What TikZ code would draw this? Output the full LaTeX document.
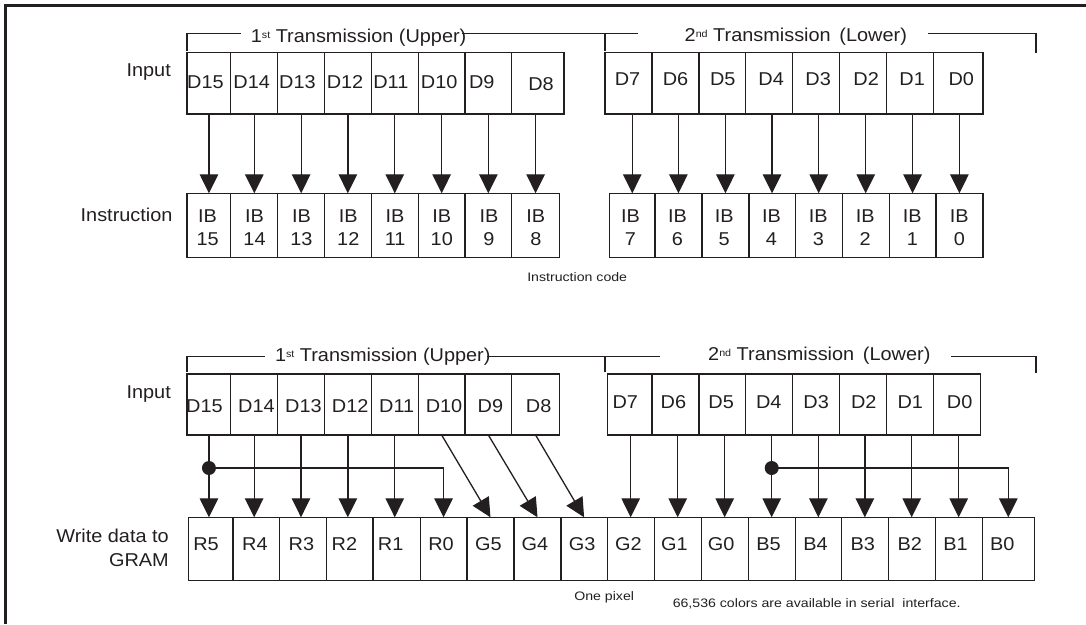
\documentclass[tikz,border=0pt]{standalone}
\usepackage{fontspec}
\setmainfont{Liberation Sans}
\newfontfamily\mainf[FakeStretch=1.07]{Liberation Sans}
\newfontfamily\smallf[FakeStretch=1.15]{Liberation Sans}
\usetikzlibrary{arrows.meta,fit}
\definecolor{ink}{RGB}{35,31,32}
\newcommand\ordsup[1]{\raisebox{4.5pt}{\fontsize{10}{10}\selectfont #1}}
\tikzset{
  cellbox/.style={draw=ink, line width=1.3pt, inner sep=0pt, outer sep=0pt},
  labtxt/.style={font=\mainf\fontsize{18.6}{22}\selectfont, text=ink, inner sep=0pt, text height=13.3pt, text depth=0pt},
  smalltxt/.style={font=\smallf\fontsize{12.3}{14}\selectfont, text=ink, inner sep=0pt, text height=8.8pt, text depth=0pt},
  arr/.style={draw=ink, line width=1.3pt, -{Triangle[length=19pt,width=18.5pt]}},
  brk/.style={draw=ink, line width=1.2pt},
  junction/.style={circle, fill=ink, inner sep=0pt, minimum size=14pt},
}
% name, x1, x2, y1, y2, text, text x, text y
\newcommand\mkcell[8]{%
  \coordinate (#1-nw) at (#2,#4);
  \coordinate (#1-se) at (#3,#5);
  \node[cellbox, fit=(#1-nw)(#1-se)] (#1) {};
  \node[labtxt] (#1-t) at (#7,#8) {#6};
}
% name, x1, x2, number, text x
\newcommand\mkib[5]{%
  \coordinate (#1-nw) at (#2,193.3);
  \coordinate (#1-se) at (#3,257.3);
  \node[cellbox, fit=(#1-nw)(#1-se)] (#1) {};
  \node[labtxt] (#1-ta) at (#5,215.5) {IB};
  \node[labtxt] (#1-tb) at (#5,239.2) {#4};
}
\begin{document}
\begin{tikzpicture}[x=1pt,y=-1pt]
\useasboundingbox (0,0) rectangle (1086,624);
% frame
\draw[draw=ink, line width=2.7pt] (5.6,624) -- (5.6,5.6) -- (1086,5.6);

% ---------- upper diagram ----------
\node[labtxt, anchor=west] (t1a) at (250.7,36) {1\ordsup{st} Transmission (Upper)};
\node[labtxt, anchor=west] (t2a) at (684.5,35) {2\ordsup{nd} Transmission\hspace{8.7pt}(Lower)};
\draw[brk] (187,51) -- (187,33.5) -- (241,33.5);
\draw[brk] (462,33.5) -- (637.5,33.5);
\draw[brk] (605,33.5) -- (605,51);
\draw[brk] (928,33.5) -- (1036,33.5) -- (1036,52.7);

\node[labtxt, anchor=east] (inA) at (171,69.7) {Input};
\node[labtxt, anchor=east] (insB) at (172.7,215) {Instruction};

\mkcell{a15}{187.1}{230.8}{52.7}{114}{D15}{205.5}{81.7}
\mkcell{a14}{230.8}{277.8}{52.7}{114}{D14}{251.7}{81.7}
\mkcell{a13}{277.8}{324.5}{52.7}{114}{D13}{297.5}{81.7}
\mkcell{a12}{324.5}{371.2}{52.7}{114}{D12}{345}{81.7}
\mkcell{a11}{371.2}{418.3}{52.7}{114}{D11}{390.8}{81.7}
\mkcell{a10}{418.3}{465.0}{52.7}{114}{D10}{439.2}{81.7}
\mkcell{a9}{465.0}{511.7}{52.7}{114}{D9}{481.8}{81.7}
\mkcell{a8}{511.7}{564.1}{52.7}{114}{D8}{541}{83.7}
\mkcell{a7}{605.1}{652.1}{52.7}{114}{D7}{627.5}{78.8}
\mkcell{a6}{652.1}{699.1}{52.7}{114}{D6}{675.5}{78.8}
\mkcell{a5}{699.1}{745.8}{52.7}{114}{D5}{722.8}{78.8}
\mkcell{a4}{745.8}{792.8}{52.7}{114}{D4}{771.2}{78.8}
\mkcell{a3}{792.8}{839.5}{52.7}{114}{D3}{818.2}{78.8}
\mkcell{a2}{839.5}{886.5}{52.7}{114}{D2}{866.1}{78.8}
\mkcell{a1}{886.5}{933.5}{52.7}{114}{D1}{912.2}{78.8}
\mkcell{a0}{933.5}{982.9}{52.7}{114}{D0}{961.3}{78.8}

\mkib{ib15}{187.1}{230.8}{15}{207.6}
\mkib{ib14}{230.8}{277.8}{14}{254.5}
\mkib{ib13}{277.8}{324.5}{13}{301.4}
\mkib{ib12}{324.5}{371.2}{12}{348.3}
\mkib{ib11}{371.2}{418.3}{11}{395.1}
\mkib{ib10}{418.3}{465.0}{10}{441.8}
\mkib{ib9}{465.0}{511.7}{9}{488.9}
\mkib{ib8}{511.7}{559.5}{8}{535.8}
\mkib{ib7}{609.6}{654.9}{7}{630.5}
\mkib{ib6}{654.9}{701.9}{6}{677.5}
\mkib{ib5}{701.9}{748.9}{5}{724.2}
\mkib{ib4}{748.9}{795.2}{4}{771.5}
\mkib{ib3}{795.2}{842.2}{3}{818.3}
\mkib{ib2}{842.2}{889.2}{2}{865.2}
\mkib{ib1}{889.2}{935.9}{1}{912.3}
\mkib{ib0}{935.9}{982.9}{0}{959.3}

\foreach \k in {15,14,13,12,11,10,9,8,7,6,5,4,3,2,1,0}{
  \draw[arr] (ib\k.north |- a\k.south) -- (ib\k.north);
}
\node[smalltxt] (icode) at (577.2,276.7) {Instruction code};

% ---------- lower diagram ----------
\node[labtxt, anchor=west] (t1c) at (274.8,355) {1\ordsup{st} Transmission (Upper)};
\node[labtxt, anchor=west] (t2c) at (708,354) {2\ordsup{nd} Transmission\hspace{8.7pt}(Lower)};
\draw[brk] (187,372) -- (187,356.7) -- (265,356.7);
\draw[brk] (487,356.7) -- (660,356.7);
\draw[brk] (605,356.7) -- (605,372);
\draw[brk] (951,356.7) -- (1036,356.7) -- (1036,373.3);

\node[labtxt, anchor=east] (inC) at (171,391.7) {Input};
\node[labtxt, anchor=east] (wd1) at (169,535.7) {Write data to};
\node[labtxt, anchor=east] (wd2) at (169,560) {GRAM};

\mkcell{c15}{187.1}{230.8}{374}{435}{D15}{204.4}{405.8}
\mkcell{c14}{230.8}{277.5}{374}{435}{D14}{256.4}{405.8}
\mkcell{c13}{277.5}{324.5}{374}{435}{D13}{303.5}{405.8}
\mkcell{c12}{324.5}{371.2}{374}{435}{D12}{350.2}{405.8}
\mkcell{c11}{371.2}{418.3}{374}{435}{D11}{396.7}{405.8}
\mkcell{c10}{418.3}{465.0}{374}{435}{D10}{444}{405.8}
\mkcell{c9}{465.0}{511.7}{374}{435}{D9}{490.4}{405.8}
\mkcell{c8}{511.7}{559.5}{374}{435}{D8}{538.7}{405.8}
\mkcell{c7}{607.2}{652.1}{374}{435}{D7}{625.3}{401.7}
\mkcell{c6}{652.1}{699.1}{374}{435}{D6}{673.4}{401.7}
\mkcell{c5}{699.1}{745.8}{374}{435}{D5}{721.1}{401.7}
\mkcell{c4}{745.8}{792.8}{374}{435}{D4}{768.8}{401.7}
\mkcell{c3}{792.8}{839.5}{374}{435}{D3}{816.2}{401.7}
\mkcell{c2}{839.5}{886.5}{374}{435}{D2}{863.8}{401.7}
\mkcell{c1}{886.5}{933.5}{374}{435}{D1}{910.3}{401.7}
\mkcell{c0}{933.5}{980.5}{374}{435}{D0}{959.6}{401.7}

\mkcell{wR5}{188.7}{233.0}{517.3}{580.7}{R5}{206}{544.2}
\mkcell{wR4}{233.0}{279.7}{517.3}{580.7}{R4}{254.9}{544.2}
\mkcell{wR3}{279.7}{326.4}{517.3}{580.7}{R3}{301.4}{544.2}
\mkcell{wR2}{326.4}{373.1}{517.3}{580.7}{R2}{344.4}{544.2}
\mkcell{wR1}{373.1}{420.2}{517.3}{580.7}{R1}{390.7}{544.2}
\mkcell{wR0}{420.2}{466.9}{517.3}{580.7}{R0}{441}{544.2}
\mkcell{wG5}{466.9}{514.0}{517.3}{580.7}{G5}{488.5}{544.2}
\mkcell{wG4}{514.0}{561.0}{517.3}{580.7}{G4}{534.8}{544.2}
\mkcell{wG3}{561.0}{607.2}{517.3}{580.7}{G3}{582.2}{544.2}
\mkcell{wG2}{607.2}{654.2}{517.3}{580.7}{G2}{628.5}{544.2}
\mkcell{wG1}{654.2}{701.2}{517.3}{580.7}{G1}{674.4}{544.2}
\mkcell{wG0}{701.2}{748.2}{517.3}{580.7}{G0}{721.1}{544.2}
\mkcell{wB5}{748.2}{795.2}{517.3}{580.7}{B5}{768.5}{544.2}
\mkcell{wB4}{795.2}{841.5}{517.3}{580.7}{B4}{815.6}{544.2}
\mkcell{wB3}{841.5}{888.2}{517.3}{580.7}{B3}{862.7}{544.2}
\mkcell{wB2}{888.2}{935.2}{517.3}{580.7}{B2}{909.7}{544.2}
\mkcell{wB1}{935.2}{982.2}{517.3}{580.7}{B1}{955.6}{544.2}
\mkcell{wB0}{982.2}{1034.4}{517.3}{580.7}{B0}{1002.3}{544.2}

% straight arrows, left half
\foreach \s/\t in {c15/wR5,c14/wR4,c13/wR3,c12/wR2,c11/wR1}{
  \draw[arr] (\s.south) -- (\s.south |- \t.north);
}
% diagonal arrows
\foreach \s/\t in {c10/wG5,c9/wG4,c8/wG3}{
  \draw[arr] (\s.south) -- (\t.north);
}
% straight arrows, right half
\foreach \s/\t in {c7/wG2,c6/wG1,c5/wG0,c4/wB5,c3/wB4,c2/wB3,c1/wB2,c0/wB1}{
  \draw[arr] (\t.north |- \s.south) -- (\t.north);
}
% branches
\coordinate (jl) at (c15.south |- 0,468);
\coordinate (jr) at (wB5.north |- 0,468);
\draw[arr] (jl) -| (wR0.north);
\draw[arr] (jr) -| (wB0.north);
\node[junction] (dl) at (jl) {};
\node[junction] (dr) at (jr) {};

\node[smalltxt] (opix) at (604.2,595.8) {One pixel};
\node[smalltxt] (colors) at (816.7,603.3) {66,536 colors are available in serial\hspace{8pt}interface.};
\end{tikzpicture}
\end{document}
